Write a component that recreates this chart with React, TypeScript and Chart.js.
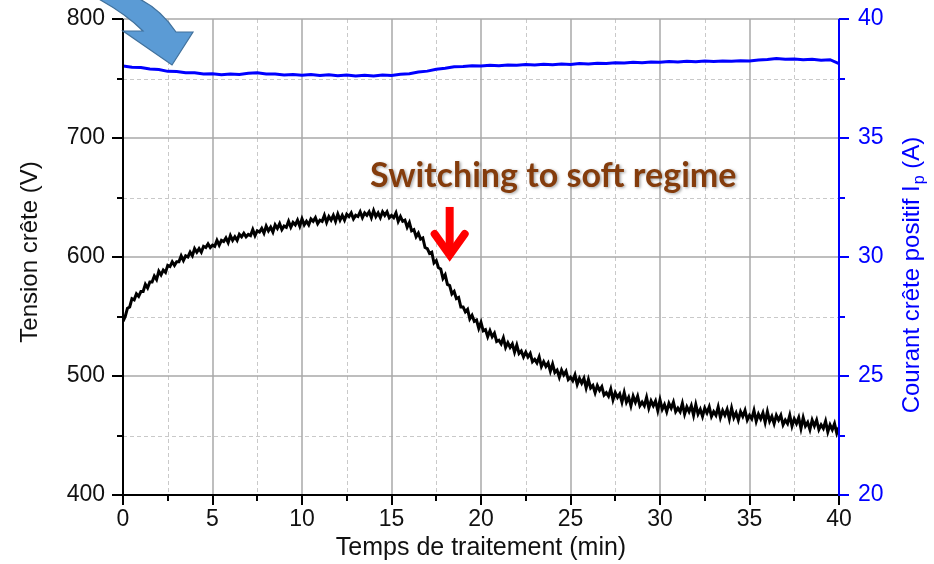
import React, { useEffect, useRef } from 'react';
import { Chart, registerables } from 'chart.js';

Chart.register(...registerables);

// ---- Data ----
const TENSION_STEP_MIN = 0.125; // sampling step of the tension trace (min)
const tensionValues: number[] = [
  546, 550, 557, 558, 565, 564, 569, 567,
  571, 571, 577, 574, 579, 579, 584, 581,
  588, 585, 589, 587, 593, 592, 596, 593,
  596, 596, 601, 597, 601, 600, 604, 601,
  607, 604, 607, 604, 609, 608, 611, 608,
  610, 609, 614, 610, 614, 613, 616, 612,
  618, 614, 617, 614, 619, 617, 620, 617,
  619, 618, 623, 618, 622, 621, 624, 620,
  626, 622, 625, 621, 627, 624, 628, 623,
  626, 625, 630, 625, 629, 627, 631, 626,
  632, 627, 630, 627, 632, 630, 633, 628,
  631, 630, 635, 629, 634, 631, 635, 630,
  636, 631, 635, 631, 636, 634, 637, 632,
  635, 634, 638, 633, 637, 635, 638, 633,
  639, 634, 637, 633, 638, 635, 638, 633,
  635, 633, 637, 630, 634, 630, 631, 625,
  629, 622, 623, 617, 620, 615, 616, 608,
  607, 603, 604, 595, 597, 591, 590, 582,
  585, 577, 576, 569, 571, 565, 566, 558,
  558, 554, 556, 548, 551, 546, 547, 540,
  545, 538, 539, 533, 538, 533, 536, 529,
  530, 527, 532, 524, 528, 524, 527, 520,
  526, 519, 521, 516, 520, 516, 519, 512,
  514, 511, 516, 508, 512, 508, 511, 504,
  510, 503, 505, 499, 505, 501, 504, 497,
  499, 496, 501, 493, 498, 494, 498, 490,
  497, 490, 492, 486, 492, 488, 491, 484,
  486, 483, 489, 480, 486, 482, 485, 478,
  486, 478, 482, 475, 483, 478, 483, 475,
  478, 475, 482, 473, 479, 475, 479, 471,
  480, 472, 476, 470, 477, 473, 478, 470,
  473, 470, 477, 468, 474, 470, 475, 467,
  476, 468, 472, 466, 473, 469, 474, 466,
  470, 467, 474, 465, 471, 467, 472, 464,
  473, 465, 469, 463, 470, 466, 471, 463,
  467, 464, 471, 462, 468, 464, 469, 461,
  470, 462, 466, 460, 467, 463, 467, 459,
  463, 460, 467, 458, 464, 460, 465, 456,
  465, 458, 461, 455, 463, 458, 463, 455,
  459, 456, 462, 453, 459, 455, 460, 452,
  457,
];

const COURANT_STEP_MIN = 0.5; // sampling step of the current trace (min)
const courantValues: number[] = [
  38.03, 37.97, 37.96, 37.90, 37.88, 37.80, 37.79, 37.74, 37.74, 37.69,
  37.70, 37.66, 37.69, 37.67, 37.72, 37.74, 37.69, 37.69, 37.65, 37.67,
  37.64, 37.67, 37.63, 37.66, 37.62, 37.65, 37.61, 37.64, 37.61, 37.65,
  37.63, 37.68, 37.70, 37.77, 37.81, 37.89, 37.93, 37.99, 38.00, 38.04,
  38.03, 38.06, 38.04, 38.07, 38.06, 38.09, 38.07, 38.10, 38.08, 38.11,
  38.09, 38.13, 38.11, 38.14, 38.13, 38.16, 38.15, 38.18, 38.16, 38.19,
  38.18, 38.21, 38.19, 38.22, 38.20, 38.23, 38.21, 38.24, 38.22, 38.25,
  38.24, 38.28, 38.30, 38.34, 38.31, 38.32, 38.29, 38.31, 38.27, 38.29,
  38.12,
];

const X_MIN = 0, X_MAX = 40, X_MAJOR = 5, X_MINOR = 2.5;
const Y_MIN = 400, Y_MAX = 800, Y_MAJOR = 100, Y_MINOR = 50;
const Y1_MIN = 20, Y1_MAX = 40, Y1_MAJOR = 5, Y1_MINOR = 2.5;

const X_TITLE = 'Temps de traitement (min)';
const Y_TITLE = 'Tension crête (V)';
const Y1_TITLE_MAIN = 'Courant crête positif I';
const Y1_TITLE_SUB = 'p';
const Y1_TITLE_END = ' (A)';
const ANNOTATION_TEXT = 'Switching to soft regime';
const ANNOTATION_TEXT_AT = { x: 13.8, y: 659 };
const ANNOTATION_ARROW_TIP = { x: 18.25, y: 595 };

const FONT = "'Liberation Sans', Arial, sans-serif";
const BLUE = '#0000ff';
const DARK = '#111111';

function near(a: number, b: number) {
  return Math.abs(a - b) < 1e-6;
}

const decorPlugin = {
  id: 'decor',
  beforeDatasetsDraw(chart: any) {
    const { ctx, chartArea: a, scales } = chart;
    const x = scales.x, y = scales.y;
    ctx.save();
    ctx.strokeStyle = '#c9c9c9';
    ctx.lineWidth = 1;
    ctx.setLineDash([4, 3]);
    for (let v = X_MIN + X_MINOR; v < X_MAX; v += X_MAJOR) {
      const px = Math.round(x.getPixelForValue(v)) + 0.5;
      ctx.beginPath(); ctx.moveTo(px, a.top); ctx.lineTo(px, a.bottom); ctx.stroke();
    }
    for (let v = Y_MIN + Y_MINOR; v < Y_MAX; v += Y_MAJOR) {
      const py = Math.round(y.getPixelForValue(v)) + 0.5;
      ctx.beginPath(); ctx.moveTo(a.left, py); ctx.lineTo(a.right, py); ctx.stroke();
    }
    ctx.setLineDash([]);
    ctx.strokeStyle = '#a8a8a8';
    ctx.lineWidth = 1.5;
    for (let v = X_MIN + X_MAJOR; v < X_MAX; v += X_MAJOR) {
      const px = Math.round(x.getPixelForValue(v));
      ctx.beginPath(); ctx.moveTo(px, a.top); ctx.lineTo(px, a.bottom); ctx.stroke();
    }
    for (let v = Y_MIN + Y_MAJOR; v <= Y_MAX; v += Y_MAJOR) {
      const py = Math.round(y.getPixelForValue(v));
      ctx.beginPath(); ctx.moveTo(a.left, py); ctx.lineTo(a.right, py); ctx.stroke();
    }
    ctx.restore();
  },
  afterDatasetsDraw(chart: any) {
    const { ctx, chartArea: a, scales } = chart;
    const x = scales.x, y = scales.y, y1 = scales.y1;
    ctx.save();
    ctx.lineWidth = 2;
    ctx.strokeStyle = '#000';
    ctx.beginPath(); ctx.moveTo(a.left, a.top); ctx.lineTo(a.left, a.bottom + 1); ctx.stroke();
    for (let v = Y_MIN; v <= Y_MAX + 1e-6; v += Y_MINOR) {
      const py = Math.round(y.getPixelForValue(v));
      const len = near((v - Y_MIN) % Y_MAJOR, 0) ? 11 : 6;
      ctx.beginPath(); ctx.moveTo(a.left, py); ctx.lineTo(a.left - len, py); ctx.stroke();
    }
    ctx.beginPath(); ctx.moveTo(a.left - 1, a.bottom); ctx.lineTo(a.right, a.bottom); ctx.stroke();
    for (let v = X_MIN; v <= X_MAX + 1e-6; v += X_MINOR) {
      const px = Math.round(x.getPixelForValue(v));
      const len = near((v - X_MIN) % X_MAJOR, 0) ? 10 : 6;
      ctx.beginPath(); ctx.moveTo(px, a.bottom); ctx.lineTo(px, a.bottom + len); ctx.stroke();
    }
    ctx.strokeStyle = BLUE;
    ctx.beginPath(); ctx.moveTo(a.right, a.top); ctx.lineTo(a.right, a.bottom + 1); ctx.stroke();
    for (let v = Y1_MIN; v <= Y1_MAX + 1e-6; v += Y1_MINOR) {
      const py = Math.round(y1.getPixelForValue(v));
      const len = near((v - Y1_MIN) % Y1_MAJOR, 0) ? 10 : 6;
      ctx.beginPath(); ctx.moveTo(a.right, py); ctx.lineTo(a.right + len, py); ctx.stroke();
    }
    ctx.restore();
  },
  afterDraw(chart: any) {
    const { ctx, chartArea: a, scales } = chart;
    const x = scales.x, y = scales.y;
    ctx.save();

    ctx.fillStyle = DARK;
    ctx.font = `25px ${FONT}`;
    ctx.textAlign = 'center';
    ctx.textBaseline = 'alphabetic';
    ctx.fillText(X_TITLE, (a.left + a.right) / 2, 555);

    ctx.save();
    ctx.font = `24px ${FONT}`;
    ctx.translate(37, 252);
    ctx.rotate(-Math.PI / 2);
    ctx.fillText(Y_TITLE, 0, 0);
    ctx.restore();

    ctx.save();
    ctx.translate(919, 275);
    ctx.rotate(-Math.PI / 2);
    ctx.fillStyle = BLUE;
    ctx.textAlign = 'left';
    const mainFont = `24px ${FONT}`;
    const subFont = `16px ${FONT}`;
    ctx.font = mainFont;
    const w1 = ctx.measureText(Y1_TITLE_MAIN).width;
    const w3 = ctx.measureText(Y1_TITLE_END).width;
    ctx.font = subFont;
    const w2 = ctx.measureText(Y1_TITLE_SUB).width;
    const total = w1 + w2 + w3 + 1;
    let cx = -total / 2;
    ctx.font = mainFont;
    ctx.fillText(Y1_TITLE_MAIN, cx, 0);
    cx += w1;
    ctx.font = subFont;
    ctx.fillText(Y1_TITLE_SUB, cx + 1, 5);
    cx += w2 + 1;
    ctx.font = mainFont;
    ctx.fillText(Y1_TITLE_END, cx, 0);
    ctx.restore();

    ctx.save();
    ctx.font = `bold 34px Lato, 'Open Sans', sans-serif`;
    ctx.fillStyle = '#843c0c';
    ctx.textAlign = 'left';
    ctx.textBaseline = 'alphabetic';
    ctx.shadowColor = 'rgba(0,0,0,0.35)';
    ctx.shadowOffsetX = 1.5;
    ctx.shadowOffsetY = 1.5;
    ctx.shadowBlur = 3;
    ctx.fillText(ANNOTATION_TEXT, x.getPixelForValue(ANNOTATION_TEXT_AT.x), y.getPixelForValue(ANNOTATION_TEXT_AT.y));
    ctx.restore();

    const tx = x.getPixelForValue(ANNOTATION_ARROW_TIP.x);
    const ty = y.getPixelForValue(ANNOTATION_ARROW_TIP.y);
    ctx.save();
    ctx.strokeStyle = '#ff0000';
    ctx.lineWidth = 8;
    ctx.lineCap = 'butt';
    ctx.beginPath(); ctx.moveTo(tx, ty - 56); ctx.lineTo(tx, ty - 10); ctx.stroke();
    ctx.lineCap = 'round';
    ctx.lineJoin = 'miter';
    ctx.beginPath();
    ctx.moveTo(tx - 15, ty - 29);
    ctx.lineTo(tx, ty - 8);
    ctx.lineTo(tx + 15, ty - 29);
    ctx.stroke();
    ctx.restore();

    const ox = a.left, oy = a.top;
    ctx.save();
    ctx.fillStyle = '#5b9bd5';
    ctx.strokeStyle = '#41719c';
    ctx.lineWidth = 1.2;
    ctx.beginPath();
    ctx.moveTo(ox - 28, oy - 22);
    ctx.quadraticCurveTo(ox + 2, oy - 6, ox + 20, oy + 12);
    ctx.lineTo(ox + 0, oy + 12);
    ctx.lineTo(ox + 49, oy + 46);
    ctx.lineTo(ox + 70, oy + 13);
    ctx.lineTo(ox + 53, oy + 13);
    ctx.quadraticCurveTo(ox + 36, oy - 12, ox + 12, oy - 22);
    ctx.closePath();
    ctx.fill();
    ctx.stroke();
    ctx.restore();

    ctx.restore();
  },
};

export default function App() {
  const canvasRef = useRef<HTMLCanvasElement | null>(null);

  useEffect(() => {
    const canvas = canvasRef.current;
    if (!canvas) return;
    const tensionPoints = tensionValues.map((v, i) => ({ x: i * TENSION_STEP_MIN, y: v }));
    const courantPoints = courantValues.map((v, i) => ({ x: i * COURANT_STEP_MIN, y: v }));

    const tickFont = { family: FONT, size: 23 };

    const chart = new Chart(canvas, {
      type: 'line',
      data: {
        datasets: [
          {
            label: 'Tension crête',
            data: tensionPoints,
            xAxisID: 'x',
            yAxisID: 'y',
            borderColor: '#000000',
            borderWidth: 3,
            pointRadius: 0,
            tension: 0,
            fill: false,
          },
          {
            label: 'Courant crête positif',
            data: courantPoints,
            xAxisID: 'x',
            yAxisID: 'y1',
            borderColor: BLUE,
            borderWidth: 3,
            pointRadius: 0,
            tension: 0,
            fill: false,
          },
        ],
      },
      options: {
        responsive: false,
        animation: false,
        devicePixelRatio: 1,
        layout: { padding: { top: 19, left: 0, right: 0, bottom: 0 } },
        plugins: { legend: { display: false }, tooltip: { enabled: false }, title: { display: false } },
        scales: {
          x: {
            type: 'linear',
            min: X_MIN,
            max: X_MAX,
            ticks: { stepSize: X_MAJOR, font: tickFont, color: DARK, padding: 11, maxRotation: 0, autoSkip: false },
            grid: { display: false, drawTicks: false },
            border: { display: false },
            afterFit: (s: any) => { s.height = 69; s.paddingLeft = 0; s.paddingRight = 0; },
          },
          y: {
            type: 'linear',
            position: 'left',
            min: Y_MIN,
            max: Y_MAX,
            ticks: { stepSize: Y_MAJOR, font: tickFont, color: DARK, padding: 18 },
            grid: { display: false, drawTicks: false },
            border: { display: false },
            afterFit: (s: any) => { s.width = 123; s.paddingTop = 0; s.paddingBottom = 0; },
          },
          y1: {
            type: 'linear',
            position: 'right',
            min: Y1_MIN,
            max: Y1_MAX,
            ticks: { stepSize: Y1_MAJOR, font: tickFont, color: BLUE, padding: 19 },
            grid: { display: false, drawTicks: false },
            border: { display: false },
            afterFit: (s: any) => { s.width = 95; s.paddingTop = 0; s.paddingBottom = 0; },
          },
        },
      },
      plugins: [decorPlugin],
    } as any);

    return () => chart.destroy();
  }, []);

  return (
    <div style={{ position: 'fixed', left: 0, top: 0, width: 934, height: 564, background: '#ffffff' }}>
      <canvas ref={canvasRef} width={934} height={564} style={{ display: 'block' }} />
    </div>
  );
}
